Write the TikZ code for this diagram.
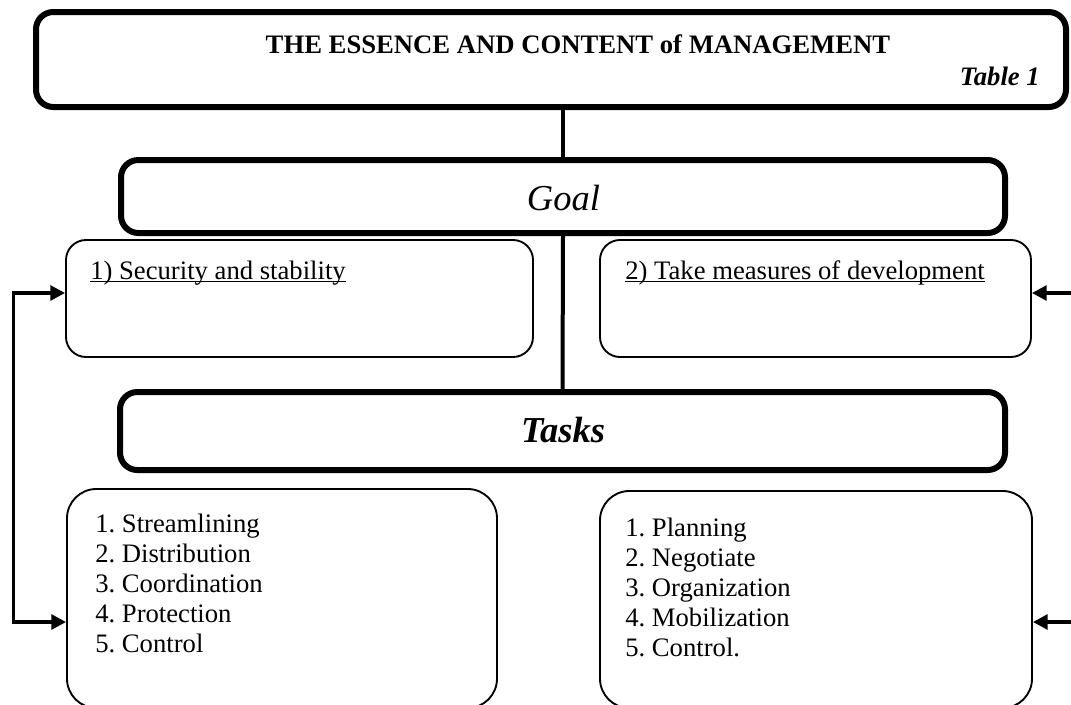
\documentclass[tikz,border=0pt]{standalone}
\usepackage{fontspec}
\setmainfont{Liberation Serif}
\usetikzlibrary{arrows.meta,fit}
\newcommand\myul[1]{\setbox0\hbox{#1}\rlap{\rule[-2.6pt]{\wd0}{1.1pt}}\box0}
\frenchspacing
\begin{document}
\begin{tikzpicture}[x=0.75pt,y=-0.75pt,
  heavybox/.style={draw,line width=4.5pt,rounded corners=13pt,inner sep=0pt},
  thinbox/.style={draw,line width=1.4pt,rounded corners=15pt,inner sep=0pt},
  listbox/.style={draw,line width=1.4pt,rounded corners=22pt,inner sep=0pt},
  link/.style={line width=3pt},
  arr/.style={line width=2.6pt,-{Triangle[length=11pt,width=11pt]}},
  arrboth/.style={line width=2.6pt,{Triangle[length=11pt,width=11pt]}-{Triangle[length=11pt,width=11pt]}},
  body/.style={font=\fontsize{20pt}{24pt}\selectfont,inner sep=0pt},
  titletext/.style={font=\fontsize{20pt}{24pt}\selectfont\bfseries,inner sep=0pt},
  head/.style={font=\fontsize{27.4pt}{32pt}\selectfont\itshape,inner sep=0pt},
]
\clip (0,0) rectangle (1071,704);
% boxes
\node[heavybox,fit={(36,12)(1066,107)}] (top) {};
\node[heavybox,fit={(121,160)(1005,233)}] (goal) {};
\node[heavybox,fit={(120,392)(1005,470)}] (tasks) {};
\node[thinbox,fit={(66,240)(533,357)}] (sec) {};
\node[thinbox,fit={(600,240)(1031,357)}] (dev) {};
\node[listbox,fit={(67,489)(497,708)}] (lstL) {};
\node[listbox,fit={(600,491)(1032,708)}] (lstR) {};
% texts
\node[titletext,anchor=base] (title) at (578,53) {THE ESSENCE AND CONTENT of MANAGEMENT};
\node[titletext,anchor=base east] (tab) at (1040,85) {\itshape Table 1};
\node[head,anchor=base] (goaltext) at (563.5,210) {Goal};
\node[head,anchor=base] (taskstext) at (563,442) {\bfseries Tasks};
\node[body,anchor=base west] (sectext) at (90,279) {\myul{1) Security and stability}};
\node[body,anchor=base west] (devtext) at (625,279) {\myul{2) Take measures of development}};
\node[body,anchor=base west] (listL) at (95,532) {\vtop{\baselineskip=22.5pt
  \hbox{1. Streamlining}\hbox{2. Distribution}\hbox{3. Coordination}\hbox{4. Protection}\hbox{5. Control}}};
\node[body,anchor=base west] (listR) at (625,536) {\vtop{\baselineskip=22.5pt
  \hbox{1. Planning}\hbox{2. Negotiate}\hbox{3. Organization}\hbox{4. Mobilization}\hbox{5. Control.}}};
% connectors
\draw[link] (goal.north) -- (goal.north |- top.south);
\draw[link] (goal.south) -- (tasks.north);
\coordinate (la) at (13.5,293);
\coordinate (lb) at (13.5,622);
\coordinate (ra) at (1080,293);
\coordinate (rb) at (1080,622);
\draw[arrboth,rounded corners=0pt] (la -| sec.west) -- (la) -- (lb) -- (lb -| lstL.west);
\draw[arr] (ra) -- (ra -| dev.east);
\draw[arr] (rb) -- (rb -| lstR.east);
\end{tikzpicture}
\end{document}
